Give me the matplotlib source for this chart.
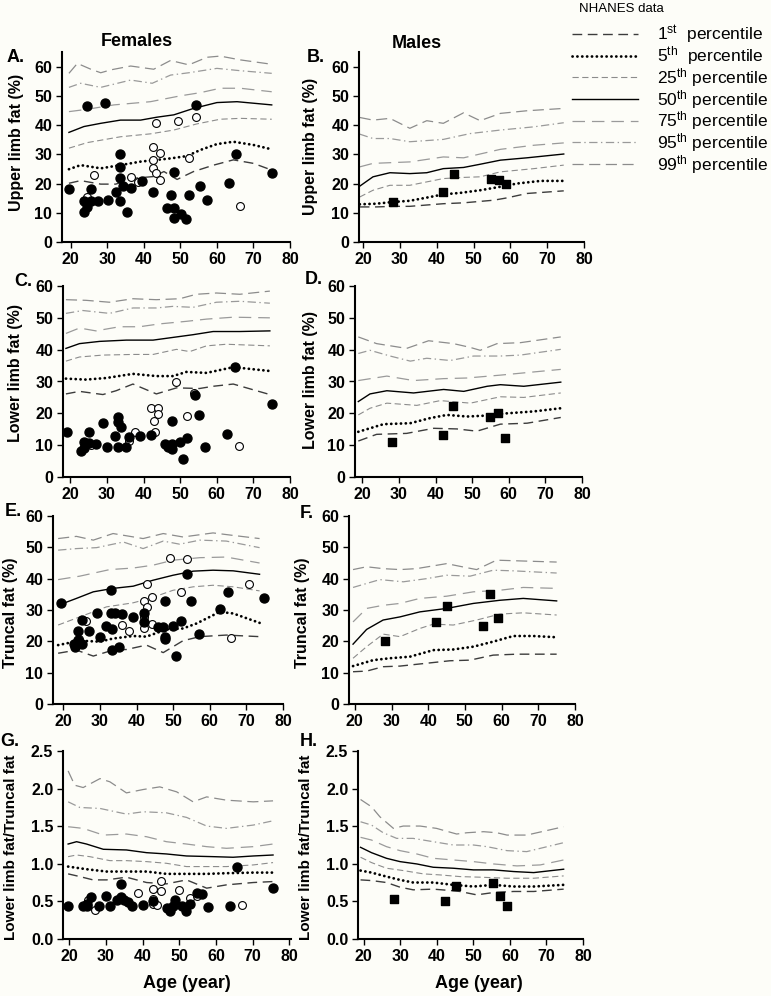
import matplotlib
matplotlib.use('Agg')
import matplotlib.pyplot as plt
from matplotlib.ticker import FormatStrFormatter

plt.rcParams['font.family'] = ['Liberation Sans', 'DejaVu Sans']
plt.rcParams['mathtext.fontset'] = 'custom'
plt.rcParams['mathtext.rm'] = 'Liberation Sans'
plt.rcParams['mathtext.it'] = 'Liberation Sans:italic'
plt.rcParams['mathtext.bf'] = 'Liberation Sans:bold'
plt.rcParams['lines.scale_dashes'] = False

# ---------------- DATA ----------------
pct_keys = ['p1', 'p5', 'p25', 'p50', 'p75', 'p95', 'p99']
pct_labels = [r'1$^{\mathrm{st}}$  percentile', r'5$^{\mathrm{th}}$  percentile',
              r'25$^{\mathrm{th}}$ percentile', r'50$^{\mathrm{th}}$ percentile',
              r'75$^{\mathrm{th}}$ percentile', r'95$^{\mathrm{th}}$ percentile',
              r'99$^{\mathrm{th}}$ percentile']

# Panel A: female upper limb fat (%)
A_curves = {
    'p99': ([19.5, 21.8, 25.5, 28.2, 31, 36.4, 42.7, 47.3, 52.3, 57.3, 60.9, 66.4, 75],
            [57.7, 61.1, 59.1, 57.9, 58.9, 60.2, 59.1, 62.1, 60.6, 63.2, 63.6, 62.3, 60.8]),
    'p95': ([19.5, 22.7, 28.2, 36.4, 42.3, 47.3, 52.3, 60, 66.4, 75],
            [52.9, 54.3, 52.9, 55.4, 54.3, 57.1, 57.9, 59.4, 58.6, 57.7]),
    'p75': ([19.5, 24.5, 31.8, 41.8, 50, 55.5, 60.9, 66.4, 75],
            [44.6, 45.4, 46.9, 48, 50, 51.1, 52.6, 52.6, 51.4]),
    'p50': ([19.5, 23.6, 28.2, 33.6, 39.1, 43.6, 48.2, 53.6, 60, 65.5, 75],
            [37.5, 39.5, 40.6, 41.7, 41.7, 42.7, 43.5, 45.7, 47.7, 48, 46.9]),
    'p25': ([19.5, 24.5, 33.6, 41.8, 48.2, 54.5, 60.9, 66.4, 75],
            [32.1, 34, 36, 37, 38.3, 40.4, 42, 42.3, 42]),
    'p5': ([19.5, 22.7, 28.2, 33.6, 39.1, 43.6, 47.3, 51.8, 55.5, 60, 64.5, 70, 75],
           [24.9, 26.3, 25.2, 26.3, 27.5, 28.1, 28.6, 29.4, 31.5, 33.5, 34.3, 33.2, 31.7]),
    'p1': ([19.5, 22.7, 28.2, 32.3, 37.3, 42.7, 45.5, 49.1, 53.6, 59.1, 64.5, 70, 75],
           [20.1, 21, 19.8, 19.8, 21.8, 22.4, 24.1, 21.4, 24.1, 26.3, 28.1, 26.9, 24.6]),
}
A_filled_age = [19.5, 23.5, 24.4, 23.5, 25.5, 25.5, 27.5, 24.5, 29.4, 30.3, 32.5, 33.4, 33.4, 33.4, 33.4,
                34.4, 35.3, 36.4, 39.4, 42.4, 46.4, 47.3, 48.2, 48.2, 48.2, 50.3, 51.4, 52.3, 55.3,
                57.3, 54.3, 63.2, 65.3, 75.2]
A_filled_val = [18.0, 10.4, 12.1, 14.1, 14.1, 18.0, 14.1, 46.5, 47.7, 14.4, 17.0, 30.1, 25.6, 22.0, 14.1,
                19.3, 10.4, 18.5, 21.0, 17.2, 11.5, 16.2, 24.1, 11.5, 8.3, 9.6, 7.8, 16.2, 19.2,
                14.4, 46.9, 20.1, 30.0, 23.5]
A_open_age = [24.5, 26.4, 36.4, 38.4, 42.5, 42.5, 42.5, 43.4, 43.4, 44.4, 44.4, 49.3, 52.3, 54.4, 66.2]
A_open_val = [15.5, 22.8, 22.4, 20.6, 32.4, 28.1, 25.3, 40.6, 23.5, 30.6, 21.2, 41.4, 28.9, 42.9, 12.4]

# Panel B: male upper limb fat (%)
B_curves = {
    'p99': ([19.1, 22.7, 27.3, 32.7, 37.3, 41.8, 47.3, 51.8, 57.3, 64.5, 74.5],
            [42.6, 41.7, 42.3, 38.9, 41.5, 40.6, 44.2, 41.5, 44, 44.9, 45.7]),
    'p95': ([19.1, 22.7, 27.3, 32.7, 41.8, 49.1, 57.3, 66.4, 74.5],
            [36.9, 35.4, 35.4, 34.3, 35.1, 37.1, 38.3, 39.4, 40.8]),
    'p75': ([19.1, 22.7, 32.7, 41.8, 47.3, 57.3, 66.4, 74.5],
            [25.7, 26.9, 27.4, 29.1, 28.8, 31.7, 33.1, 33.9]),
    'p50': ([19.1, 22.7, 27.3, 32.7, 37.3, 41.8, 47.3, 51.8, 57.3, 64.5, 74.5],
            [19.1, 22.3, 23.7, 23.4, 23.7, 25.1, 25.5, 26.6, 28, 28.8, 30.1]),
    'p25': ([19.1, 22.7, 27.3, 32.7, 41.8, 47.3, 51.8, 57.3, 66.4, 74.5],
            [15.4, 17.7, 19.4, 19.4, 21.7, 22.1, 22.3, 24, 25.1, 26.3]),
    'p5': ([19.1, 23.6, 28.2, 32.7, 38.2, 41.8, 46.4, 51.8, 57.3, 61.8, 68.2, 74.5],
           [12.9, 13.1, 13.7, 14.1, 15.4, 16.3, 16.8, 17.7, 18.9, 20, 20.9, 20.9]),
    'p1': ([19.1, 23.6, 28.2, 32.7, 41.8, 47.3, 55.5, 59.1, 64.5, 74.5],
           [12, 12, 12.2, 12.2, 13.1, 13.4, 14.3, 15.1, 16.6, 17.5]),
}
B_male_age = [28, 41.8, 44.8, 54.8, 56.8, 58.9]
B_male_val = [13.7, 17.1, 23.2, 21.7, 21.1, 19.8]

# Panel C: female lower limb fat (%)
C_curves = {
    'p99': ([18.8, 24.3, 30.7, 37.1, 43.5, 49.9, 54.4, 59.9, 66.3, 74.5],
            [55.7, 55.5, 54.9, 56, 55.7, 56, 57.4, 57.8, 57.4, 58.4]),
    'p95': ([18.8, 23.4, 30.7, 37.1, 43.5, 48, 53.5, 59.9, 66.3, 74.5],
            [51.4, 52.3, 51.4, 53.1, 53.1, 53.6, 53.3, 54.9, 55.2, 54.6]),
    'p75': ([18.8, 22.5, 27, 33.4, 38.9, 44.4, 51.7, 57.2, 64.5, 74.5],
            [45.1, 46.8, 45.9, 47.2, 47.2, 48.1, 48.9, 49.6, 50.2, 50]),
    'p50': ([18.8, 22.5, 28, 35.3, 42.6, 49, 53.5, 59, 66.3, 74.5],
            [40.4, 41.9, 42.6, 43, 43, 44, 44.7, 45.7, 45.7, 45.9]),
    'p25': ([18.8, 22.5, 28.9, 37.1, 42.6, 49, 52.6, 57.2, 62.6, 74.5],
            [36.4, 37.7, 38.3, 38.5, 38.5, 40.1, 39.4, 41.2, 41.7, 41.2]),
    'p5': ([18.8, 24.3, 29.8, 37.1, 43.5, 48, 51.7, 57.2, 64.5, 74.5],
           [30.9, 30.6, 31.1, 32.4, 31.7, 31.7, 33, 32.7, 34.5, 33.3]),
    'p1': ([18.8, 22.5, 28.9, 32.5, 37.1, 43.5, 49, 55.3, 59, 64.5, 74.5],
           [26.1, 26.9, 25.9, 27.1, 29.2, 26.1, 28, 27.8, 28.5, 29.2, 25.9]),
}
C_filled_age = [19.1, 22.9, 23.8, 23.8, 25, 25, 27, 28.9, 30, 32.1, 33, 33, 33, 33.9, 35.1, 36,
                38.9, 41.9, 45.9, 46.8, 47.9, 47.9, 47.9, 49.9, 50.8, 51.9, 54, 55.1, 56.9, 62.9,
                65.1, 75]
C_filled_val = [14.1, 8.2, 9.2, 11.1, 14.2, 10.8, 10.5, 16.9, 9.3, 12.9, 18.8, 17.4, 9.5, 15.8, 9.3, 12.6,
                13, 13.2, 10.3, 9.5, 10.3, 17.6, 8.9, 11, 5.6, 12.3, 25.9, 19.5, 9.5, 13.4,
                34.5, 22.9]
C_open_age = [25.7, 36, 37.8, 41.9, 42.8, 43.9, 43.9, 43, 48.8, 51.9, 53.8, 66]
C_open_val = [10.2, 11.3, 14.2, 21.8, 17.6, 21.6, 19.8, 14.2, 29.9, 19.3, 26.4, 9.6]

# Panel D: male lower limb fat (%)
D_curves = {
    'p99': ([18.9, 23.9, 32.1, 38.1, 44.9, 49.5, 52.2, 56.8, 63.2, 74.2],
            [44, 41.9, 40.4, 42.8, 41.9, 40.7, 39.8, 41.9, 42.2, 44]),
    'p95': ([18.9, 22.1, 27.6, 33.1, 37.6, 44, 50.4, 57.7, 63.2, 74.2],
            [38.8, 39.8, 38, 36.4, 37.3, 36.6, 38, 38, 38.3, 40.1]),
    'p75': ([18.9, 26.7, 34, 42.2, 48.6, 57.7, 66.8, 74.2],
            [30.3, 31.7, 30.3, 30.9, 31.1, 32, 33, 33.8]),
    'p50': ([18.9, 22.1, 26.7, 34, 42.2, 47.7, 54.1, 57.7, 64.1, 74.2],
            [23.7, 26.1, 27.1, 26.4, 27.5, 26.9, 28.5, 29, 28.5, 29.8]),
    'p25': ([18.9, 22.1, 26.7, 34.9, 41.3, 49.5, 57.7, 64.1, 74.2],
            [19.5, 21.6, 23.2, 22.5, 24, 23.2, 25.2, 25, 26.4]),
    'p5': ([18.9, 25.8, 33.1, 38.5, 43.1, 48.6, 54.1, 59.5, 66.8, 74.2],
           [14.2, 16.6, 16.9, 18.5, 19.5, 19, 19.3, 20, 20.6, 21.6]),
    'p1': ([18.9, 23.9, 32.1, 39.5, 45.8, 51.3, 57.7, 65, 74.2],
           [11.3, 13.4, 13.7, 15.3, 15.1, 14.4, 16.6, 16.9, 18.7]),
}
D_male_age = [28, 42, 44.9, 55, 57, 59]
D_male_val = [11.1, 13.2, 22.2, 18.7, 20, 12.3]

# Panel E: female truncal fat (%)
E_curves = {
    'p99': ([18.6, 23.6, 28.2, 33.6, 41.8, 47.3, 52.7, 60.9, 66.4, 73.6],
            [52.8, 53.5, 52.3, 54.4, 52.8, 54.4, 53.3, 54.6, 53.8, 52.8]),
    'p95': ([18.6, 23.6, 29.1, 36.4, 41.8, 47.3, 51.8, 57.3, 64.5, 73.6],
            [49.1, 49.6, 49.9, 51.7, 49.6, 52, 51, 52.3, 52, 49.9]),
    'p75': ([18.6, 24.5, 32.7, 39.1, 44.5, 50, 57.3, 64.5, 73.6],
            [39.7, 40.8, 42.9, 43.4, 44.3, 45.9, 46.7, 46.9, 45]),
    'p50': ([18.6, 23.6, 28.2, 33.6, 39.1, 44.5, 50, 55.5, 60.9, 66.4, 73.6],
            [31.5, 33.7, 35.8, 36.9, 37.6, 39.5, 41.1, 42.4, 42.7, 42.5, 41.4]),
    'p25': ([18.6, 24.5, 31.8, 39.1, 43.6, 50, 55.5, 60.9, 66.4, 73.6],
            [25.2, 27.8, 31, 32.3, 33.7, 36.3, 37.4, 37.9, 37.4, 36.1]),
    'p5': ([18.6, 24.5, 30, 33.6, 39.1, 42.7, 48.2, 52.7, 56.4, 60, 62.7, 66.4, 73.6],
           [18.8, 20.2, 19.9, 20.9, 21.7, 21.5, 23.8, 24.1, 25.7, 27.8, 29.4, 28.9, 25.9]),
    'p1': ([18.6, 23.6, 28.2, 33.6, 37.3, 42.7, 47.3, 52.7, 57.3, 64.5, 73.6],
           [16.2, 17.2, 15.3, 17.2, 17.4, 18.8, 16.4, 20.2, 21.5, 22, 21.5]),
}
E_filled_age = [19.3, 23.2, 22.9, 24.1, 24.1, 25, 25, 27.1, 29.1, 30, 31.8, 33, 33, 33.2, 33.2,
                34.1, 35.2, 36.1, 39.1, 42, 42.1, 45.9, 47.1, 47.9, 47.9, 47.9, 50, 50.9, 52.1,
                53.9, 55, 57, 62.9, 65, 74.8]
E_filled_val = [32.3, 18.1, 19.3, 20.4, 23.3, 19.1, 26.8, 23.4, 29.2, 21.3, 24.9, 36.5, 29.1, 23.8, 17.2,
                28.9, 18.1, 28.6, 27.8, 26.2, 29.1, 24.6, 24.6, 32.9, 21.5, 20.6, 25, 15.3, 26.6,
                41.6, 32.8, 22.3, 30.2, 35.8, 33.9]
E_open_age = [42.9, 42, 42.9, 44.1, 42, 42, 44.1, 36.1, 37.9, 26.2, 24.3, 49.1, 53.9, 52.1, 70.7, 65.9]
E_open_val = [38.4, 32.8, 31, 34.2, 27.8, 24.4, 25.5, 25.2, 23.3, 26.5, 20.9, 46.7, 46.2, 35.6, 38.4, 21.1]

# Panel F: male truncal fat (%)
F_curves = {
    'p99': ([19.5, 23.2, 27.7, 32.3, 36.8, 45, 50.5, 53.2, 58.6, 64.1, 75],
            [42.9, 43.8, 43.2, 42.9, 43.2, 44.8, 43.5, 42.9, 45.9, 45.7, 45.3]),
    'p95': ([19.5, 26.8, 33.2, 39.5, 45, 51.4, 57.7, 63.2, 75],
            [37.2, 39.7, 39, 40, 41.1, 40.8, 42.7, 42.5, 41.8]),
    'p75': ([19.5, 23.2, 27.7, 32.3, 37.7, 45, 52.3, 59.5, 65.9, 75],
            [26.2, 30.5, 31.5, 32.1, 33.7, 34.4, 35.8, 36.3, 37.2, 36.9]),
    'p50': ([19.5, 23.2, 27.7, 32.3, 37.7, 45, 52.3, 59.5, 65.9, 75],
            [19.1, 23.8, 26.8, 27.8, 29.4, 30.5, 32.1, 33.1, 33.7, 32.9]),
    'p25': ([19.5, 23.2, 27.7, 32.3, 37.7, 41.4, 46.8, 53.2, 59.5, 65.9, 75],
            [14.6, 18.3, 22.3, 21.5, 24.1, 25.5, 25.2, 26.8, 28.7, 29.1, 28.4]),
    'p5': ([19.5, 25, 29.5, 35, 41.4, 46.8, 52.3, 57.7, 63.2, 68.6, 75],
           [12.1, 14, 14.6, 15.1, 17.2, 17.4, 18.3, 19.9, 21.7, 21.7, 21.3]),
    'p1': ([19.5, 23.2, 27.7, 32.3, 39.5, 45.9, 51.4, 57.7, 64.1, 75],
           [10.3, 10.5, 11.9, 12.1, 13, 13.8, 14, 15.6, 15.9, 15.9]),
}
F_male_age = [28.2, 42, 45, 55, 56.8, 59]
F_male_val = [20.2, 26.1, 31.2, 24.9, 35.1, 27.3]

# Panel G: female lower limb fat / truncal fat
G_curves = {
    'p99': ([19.7, 21.5, 23.8, 28.4, 31.1, 35.6, 40.2, 44.7, 49.3, 53.8, 57.5, 62.9, 70.2, 75.6],
            [2.235, 2.045, 2.014, 2.133, 2.09, 1.943, 1.988, 2.023, 1.957, 1.824, 1.89, 1.846, 1.824, 1.837]),
    'p95': ([19.7, 22.9, 28.4, 35.6, 40.2, 46.5, 52, 57.5, 62.9, 70.2, 75.6],
            [1.824, 1.749, 1.736, 1.661, 1.692, 1.678, 1.617, 1.502, 1.471, 1.515, 1.572]),
    'p75': ([19.7, 23.8, 29.3, 35.6, 41.1, 46.5, 52, 57.5, 62.9, 70.2, 75.6],
            [1.493, 1.471, 1.382, 1.396, 1.36, 1.294, 1.263, 1.228, 1.206, 1.228, 1.263]),
    'p50': ([19.7, 22, 24.7, 29.3, 35.6, 41.1, 46.5, 52, 59.3, 64.7, 70.2, 75.6],
            [1.263, 1.294, 1.263, 1.193, 1.184, 1.148, 1.131, 1.104, 1.095, 1.087, 1.104, 1.117]),
    'p25': ([19.7, 22, 25.6, 31.1, 35.6, 41.1, 46.5, 52, 57.5, 62.9, 70.2, 75.6],
            [1.095, 1.117, 1.095, 1.042, 1.042, 1.029, 1.007, 0.963, 0.963, 0.963, 0.985, 1.016]),
    'p5': ([19.7, 24.7, 30.2, 35.6, 41.1, 46.5, 52, 57.5, 62.9, 70.2, 75.6],
           [0.963, 0.928, 0.897, 0.897, 0.897, 0.866, 0.866, 0.866, 0.875, 0.883, 0.883]),
    'p1': ([19.7, 22.9, 26.5, 30.2, 35.6, 41.1, 46.5, 52, 57.5, 62.9, 70.2, 75.6],
           [0.866, 0.83, 0.786, 0.786, 0.822, 0.751, 0.733, 0.786, 0.676, 0.72, 0.751, 0.764]),
}
G_filled_age = [19.7, 23.8, 24.9, 25.9, 24.9, 28.1, 30, 31.1, 32.9, 34, 34, 34.9, 36.1, 37, 40,
                42.9, 46.7, 47.6, 48.4, 48.8, 50.9, 51.8, 52.9, 54.9, 56.1, 57.9, 63.8, 65.8, 75.6]
G_filled_val = [0.433, 0.433, 0.468, 0.565, 0.433, 0.433, 0.574, 0.433, 0.521, 0.733, 0.565, 0.521,
                0.486, 0.442, 0.455, 0.499, 0.411, 0.367, 0.433, 0.521, 0.433, 0.367, 0.468,
                0.618, 0.601, 0.424, 0.442, 0.963, 0.676]
G_open_age = [25.2, 27, 38.8, 42.9, 42.9, 42.9, 44, 44.9, 44.9, 49.9, 52.9, 54.9, 67.1]
G_open_val = [0.521, 0.389, 0.61, 0.663, 0.53, 0.468, 0.455, 0.777, 0.632, 0.645, 0.543, 0.574, 0.455]

# Panel H: male lower limb fat / truncal fat
H_curves = {
    'p99': ([19.1, 22.1, 24.4, 28.1, 30.8, 35.4, 39.9, 45.4, 48.2, 52.8, 56.4, 59.2, 64.6, 74.7],
            [1.855, 1.758, 1.625, 1.471, 1.502, 1.502, 1.471, 1.396, 1.413, 1.427, 1.413, 1.382, 1.382, 1.493]),
    'p95': ([19.1, 22.1, 25.3, 29, 33.5, 39, 44.5, 50, 53.7, 59.2, 64.6, 74.7],
            [1.559, 1.515, 1.413, 1.338, 1.338, 1.294, 1.25, 1.25, 1.228, 1.175, 1.162, 1.281]),
    'p75': ([19.1, 22.1, 26.2, 29.9, 34.5, 39, 44.5, 50, 55.5, 61.9, 68.3, 74.7],
            [1.352, 1.316, 1.228, 1.175, 1.131, 1.073, 1.051, 1.029, 0.998, 0.972, 0.985, 1.051]),
    'p50': ([19.1, 22.1, 26.2, 29.9, 34.5, 39, 44.5, 50, 55.5, 61, 66.5, 74.7],
            [1.219, 1.148, 1.073, 1.029, 0.998, 0.954, 0.941, 0.919, 0.919, 0.897, 0.883, 0.928]),
    'p25': ([19.1, 22.1, 26.2, 30.8, 36.3, 40.9, 46.3, 51.8, 59.2, 66.5, 74.7],
            [1.087, 1.016, 0.941, 0.91, 0.866, 0.852, 0.83, 0.822, 0.808, 0.808, 0.839]),
    'p5': ([19.1, 22.1, 26.2, 29.9, 33.5, 39, 44.5, 50, 55.5, 61, 66.5, 74.7],
           [0.91, 0.883, 0.83, 0.786, 0.751, 0.751, 0.72, 0.698, 0.72, 0.698, 0.698, 0.72]),
    'p1': ([19.1, 22.1, 26.2, 29.9, 33.5, 39, 43.6, 46.3, 50.9, 55.5, 61, 66.5, 74.7],
           [0.786, 0.777, 0.751, 0.689, 0.654, 0.663, 0.645, 0.632, 0.587, 0.618, 0.632, 0.632, 0.663]),
}
H_male_age = [28.3, 42.3, 45.3, 55.3, 57.3, 59.3]
H_male_val = [0.534, 0.504, 0.711, 0.742, 0.57, 0.442]

x_ticks = [20, 30, 40, 50, 60, 70, 80]

# ---------------- STYLE ----------------
W, H = 771, 996
BG = '#fdfdf8'
styles = {
    'p1': dict(color='#3c3c3c', lw=1.0, dashes=(7, 4)),
    'p5': dict(color='black', lw=2.0, dashes=(0.1, 3.4), dash_capstyle='round'),
    'p25': dict(color='#8c8c8c', lw=0.8, dashes=(4.5, 2.5)),
    'p50': dict(color='black', lw=1.0, ls='-'),
    'p75': dict(color='#9a9a9a', lw=0.9, dashes=(9, 5)),
    'p95': dict(color='#9a9a9a', lw=0.9, dashes=(6, 2.5, 1, 2.5)),
    'p99': dict(color='#8c8c8c', lw=0.9, dashes=(8, 4)),
}

fig = plt.figure(figsize=(W / 100, H / 100), dpi=100, facecolor=BG)


def add_ax(left, right, y0, ytop):
    ax = fig.add_axes([left / W, 1 - y0 / H, (right - left) / W, (y0 - ytop) / H])
    ax.set_facecolor('none')
    for s in ['top', 'right']:
        ax.spines[s].set_visible(False)
    for s in ['left', 'bottom']:
        ax.spines[s].set_linewidth(1.5)
    ax.tick_params(direction='out', length=4, width=1.0, labelsize=11.5, pad=3)
    return ax


def finish(ax, xlim, ylim, yticks, fmt=None):
    ax.set_xlim(*xlim)
    ax.set_ylim(*ylim)
    ax.set_xticks(x_ticks)
    ax.set_yticks(yticks)
    if fmt:
        ax.yaxis.set_major_formatter(FormatStrFormatter(fmt))
    for lbl in ax.get_xticklabels() + ax.get_yticklabels():
        lbl.set_fontweight('bold')


def draw_curves(ax, curves):
    handles = []
    for k in pct_keys:
        a, v = curves[k]
        ln, = ax.plot(a, v, **styles[k], zorder=2)
        handles.append(ln)
    return handles


def female_points(ax, fa, fv, oa, ov):
    ax.scatter(oa, ov, s=32, facecolor='white', edgecolor='black', linewidths=0.8, zorder=3)
    ax.scatter(fa, fv, s=42, color='black', zorder=4)


def male_points(ax, ma, mv):
    ax.scatter(ma, mv, s=34, marker='s', color='black', zorder=4)


pct_ticks = [0, 10, 20, 30, 40, 50, 60]
ratio_ticks = [0.0, 0.5, 1.0, 1.5, 2.0, 2.5]

axA = add_ax(62, 290, 242, 52)
handles = draw_curves(axA, A_curves)
female_points(axA, A_filled_age, A_filled_val, A_open_age, A_open_val)
finish(axA, (17.6, 80), (0, 65), pct_ticks)

axB = add_ax(359, 584, 242, 52)
draw_curves(axB, B_curves)
male_points(axB, B_male_age, B_male_val)
finish(axB, (18.9, 80), (0, 65), pct_ticks)

axC = add_ax(63, 290, 477, 286)
draw_curves(axC, C_curves)
female_points(axC, C_filled_age, C_filled_val, C_open_age, C_open_val)
finish(axC, (18, 80), (0, 60), pct_ticks)

axD = add_ax(355, 582, 477, 286)
draw_curves(axD, D_curves)
male_points(axD, D_male_age, D_male_val)
finish(axD, (18, 80), (0, 60), pct_ticks)

axE = add_ax(53, 283, 704, 516)
draw_curves(axE, E_curves)
female_points(axE, E_filled_age, E_filled_val, E_open_age, E_open_val)
finish(axE, (17.2, 80), (0, 60), pct_ticks)

axF = add_ax(349, 575, 704, 516)
draw_curves(axF, F_curves)
male_points(axF, F_male_age, F_male_val)
finish(axF, (18.4, 80), (0, 60), pct_ticks)

axG = add_ax(63, 291, 939, 751)
draw_curves(axG, G_curves)
female_points(axG, G_filled_age, G_filled_val, G_open_age, G_open_val)
finish(axG, (18.3, 80.5), (0, 2.5), ratio_ticks, '%.1f')

axH = add_ax(358, 583, 939, 751)
draw_curves(axH, H_curves)
male_points(axH, H_male_age, H_male_val)
finish(axH, (18.4, 80), (0, 2.5), ratio_ticks, '%.1f')

# ---------------- TEXT ----------------
def ftext(x, y, s, **kw):
    fig.text(x / W, 1 - y / H, s, **kw)

bold = dict(fontweight='bold')
ftext(137, 41, 'Females', ha='center', va='center', fontsize=13, **bold)
ftext(417, 43, 'Males', ha='center', va='center', fontsize=13, **bold)

for lab, x, y in [('A.', 7, 57), ('B.', 307, 57), ('C.', 14, 281), ('D.', 305, 279),
                  ('E.', 5, 511), ('F.', 300, 514), ('G.', 0, 741), ('H.', 300, 741)]:
    ftext(x, y, lab, ha='left', va='center', fontsize=13, **bold)

for lab, x, y, fs in [('Upper limb fat (%)', 17, 142, 11.5), ('Upper limb fat (%)', 310, 146, 11.5),
                      ('Lower limb fat (%)', 16, 373, 11.5), ('Lower limb fat (%)', 310, 380, 11.5),
                      ('Truncal fat (%)', 11, 613, 11.5), ('Truncal fat (%)', 302, 613, 11.5),
                      ('Lower limb fat/Truncal fat', 11, 847, 11),
                      ('Lower limb fat/Truncal fat', 306, 847, 11)]:
    ftext(x, y, lab, ha='center', va='center', rotation=90, fontsize=fs, **bold)

ftext(187, 983, 'Age (year)', ha='center', va='center', fontsize=13, **bold)
ftext(479, 983, 'Age (year)', ha='center', va='center', fontsize=13, **bold)

ftext(579, 9, 'NHANES data', ha='left', va='center', fontsize=9.5)

fig.legend(handles, pct_labels, loc='upper left', bbox_to_anchor=(572 / W, 1 - 23 / H),
           frameon=False, fontsize=12.5, handlelength=3.8, handletextpad=1.1,
           labelspacing=-0.07, borderpad=0, borderaxespad=0)

fig.savefig('out.png', dpi=100, facecolor=BG)
